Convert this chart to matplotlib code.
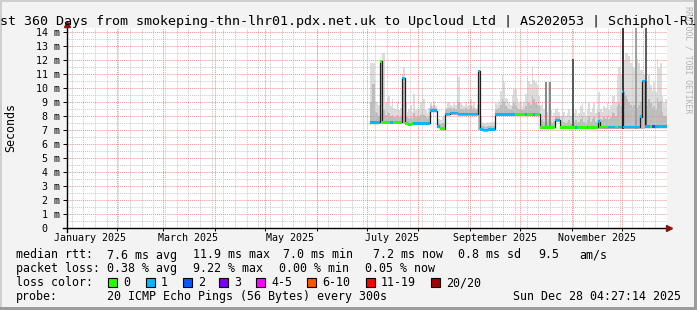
import numpy as np
import matplotlib
matplotlib.use("Agg")
import matplotlib.pyplot as plt
import matplotlib.dates as mdates
from matplotlib.patches import Rectangle
from datetime import datetime, timedelta

nan = np.nan
MONO = "DejaVu Sans Mono"

# ---- data (one value per day, starting 2025-07-01) ----
data_start = datetime(2025, 7, 1)

median_rtt = [
    nan, nan, 7.52, 7.52, 7.52, 7.52, 7.52, 7.55, 11.9, 7.55,
    7.55, 7.55, 7.55, 7.55, 7.55, 7.55, 7.55, 7.55, 7.55, 7.55,
    7.55, 10.7, 10.7, 7.47, 7.47, 7.40, 7.40, 7.47, 7.47, 7.47,
    7.47, 7.47, 7.47, 7.47, 7.47, 7.47, 7.47, 7.47, 8.38, 8.38,
    8.38, 8.38, 7.24, 7.24, 7.10, 7.10, 7.10, 8.15, 8.15, 8.15,
    8.22, 8.22, 8.22, 8.22, 8.22, 8.15, 8.15, 8.15, 8.15, 8.15,
    8.15, 8.15, 8.15, 8.15, 8.15, 8.15, 8.15, 11.2, 7.05, 7.05,
    7.00, 7.00, 7.00, 7.05, 7.05, 7.05, 7.05, 8.12, 8.12, 8.12,
    8.12, 8.12, 8.12, 8.12, 8.12, 8.12, 8.12, 8.12, 8.12, 8.12,
    8.12, 8.12, 8.12, 8.12, 8.12, 8.12, 8.12, 8.12, 8.12, 8.12,
    8.12, 8.12, 8.12, 8.12, 7.19, 7.19, 7.19, 7.19, 7.19, 7.19,
    7.19, 7.19, 7.19, 7.70, 7.70, 7.70, 7.19, 7.19, 7.19, 7.19,
    7.19, 7.19, 7.19, 7.19, 7.19, 7.19, 7.19, 7.19, 7.19, 7.19,
    7.19, 7.19, 7.19, 7.19, 7.19, 7.19, 7.19, 7.19, 7.19, 7.60,
    7.20, 7.20, 7.20, 7.20, 7.20, 7.20, 7.20, 7.20, 7.20, 7.20,
    7.20, 7.20, 7.20, 9.74, 7.20, 7.20, 7.20, 7.20, 7.20, 7.20,
    7.20, 7.20, 7.20, 7.20, 7.95, 10.5, 10.5, 7.24, 7.24, 7.24,
    7.24, 7.24, 7.24, 7.24, 7.24, 7.24, 7.24, 7.24, 7.24, 7.24,
]

# loss class per day: 0 -> "0", 1 -> "1", 2 -> "2", -1 -> no data
loss_class = [
    -1, -1, 1, 1, 1, 1, 1, 1, 0, 0,
    0, 0, 0, 0, 1, 1, 0, 0, 0, 0,
    0, 1, 1, 0, 0, 0, 0, 0, 1, 1,
    1, 1, 1, 1, 1, 1, 1, 1, 1, 1,
    1, 1, 1, 1, 0, 0, 0, 1, 1, 1,
    1, 1, 1, 1, 1, 1, 1, 1, 1, 1,
    1, 1, 1, 1, 1, 1, 1, 1, 1, 1,
    1, 1, 1, 1, 1, 1, 1, 1, 1, 1,
    1, 1, 1, 1, 1, 1, 1, 1, 1, 0,
    0, 0, 0, 0, 0, 1, 0, 0, 0, 0,
    1, 0, 0, 0, 0, 0, 0, 0, 0, 0,
    0, 0, 0, 1, 1, 1, 0, 0, 0, 0,
    0, 0, 0, 0, 0, 1, 0, 0, 0, 0,
    0, 0, 1, 0, 0, 0, 0, 0, 0, 1,
    0, 0, 0, 0, 0, 1, 1, 1, 1, 0,
    0, 1, 1, 1, 1, 1, 1, 1, 1, 1,
    1, 1, 1, 1, 1, 1, 1, 1, 1, 1,
    0, 2, 2, 1, 1, 1, 1, 1, 1, 1,
]

smoke_lo = [
    nan, nan, 7.40, 7.40, 7.40, 7.40, 7.40, 7.43, 7.45, 7.43,
    7.43, 7.43, 7.43, 7.43, 7.43, 7.43, 7.43, 7.43, 7.43, 7.43,
    7.43, 7.45, 7.45, 7.35, 7.35, 7.28, 7.28, 7.35, 7.35, 7.35,
    7.35, 7.35, 7.35, 7.35, 7.35, 7.35, 7.35, 7.35, 8.26, 8.26,
    8.26, 8.26, 7.12, 7.12, 6.98, 6.98, 6.98, 8.03, 8.03, 8.03,
    8.10, 8.10, 8.10, 8.10, 8.10, 8.03, 8.03, 8.03, 8.03, 8.03,
    8.03, 8.03, 8.03, 8.03, 8.03, 8.03, 8.03, 7.00, 6.93, 6.93,
    6.88, 6.88, 6.88, 6.93, 6.93, 6.93, 6.93, 8.00, 8.00, 8.00,
    8.00, 8.00, 8.00, 8.00, 8.00, 8.00, 8.00, 8.00, 8.00, 8.00,
    8.00, 8.00, 8.00, 8.00, 8.00, 8.00, 8.00, 8.00, 8.00, 8.00,
    8.00, 8.00, 8.00, 8.00, 7.07, 7.07, 7.07, 7.07, 7.07, 7.07,
    7.07, 7.07, 7.07, 7.58, 7.58, 7.58, 7.07, 7.07, 7.07, 7.07,
    7.07, 7.07, 7.07, 7.07, 7.07, 7.07, 7.07, 7.07, 7.07, 7.07,
    7.07, 7.07, 7.07, 7.07, 7.07, 7.07, 7.07, 7.07, 7.07, 7.10,
    7.08, 7.08, 7.08, 7.08, 7.08, 7.08, 7.08, 7.08, 7.08, 7.08,
    7.08, 7.08, 7.08, 7.10, 7.08, 7.08, 7.08, 7.08, 7.08, 7.08,
    7.08, 7.08, 7.08, 7.08, 7.10, 7.10, 7.10, 7.12, 7.12, 7.12,
    7.12, 7.12, 7.12, 7.12, 7.12, 7.12, 7.12, 7.12, 7.12, 7.12,
]

smoke_mid = [
    nan, nan, 9.0, 10.3, 10.3, 8.3, 8.2, 8.0, 11.9, 8.6,
    8.4, 8.1, 8.3, 8.2, 8.0, 8.1, 7.9, 7.9, 8.1, 7.9,
    8.0, 10.7, 10.7, 8.0, 7.9, 7.85, 7.9, 7.8, 8.2, 7.9,
    8.0, 7.9, 8.1, 8.4, 8.1, 7.9, 7.8, 7.9, 8.7, 8.6,
    8.8, 8.6, 7.6, 7.5, 7.4, 7.5, 7.5, 8.5, 8.6, 8.6,
    8.6, 8.5, 8.6, 8.5, 9.2, 9.0, 8.5, 8.5, 8.5, 8.6,
    8.5, 8.5, 8.7, 8.5, 8.6, 8.4, 8.5, 11.2, 7.4, 7.3,
    7.3, 7.25, 7.3, 7.3, 7.3, 7.3, 7.3, 8.5, 8.5, 8.6,
    8.8, 9.2, 9.0, 8.7, 8.6, 8.5, 8.5, 8.7, 8.9, 8.8,
    8.6, 8.5, 8.5, 8.4, 8.5, 8.7, 9.0, 8.9, 8.8, 9.5,
    9.2, 8.9, 8.8, 8.7, 7.7, 7.8, 7.6, 7.8, 7.6, 7.8,
    7.6, 7.5, 7.6, 8.0, 8.0, 8.0, 7.6, 7.9, 7.6, 7.5,
    7.6, 7.7, 7.5, 8.0, 7.6, 7.7, 7.5, 7.6, 7.8, 7.9,
    7.6, 7.5, 7.7, 7.9, 7.6, 7.8, 7.9, 7.6, 7.7, 8.3,
    7.8, 7.7, 7.9, 7.8, 8.0, 7.8, 7.9, 8.3, 8.2, 8.0,
    8.7, 8.9, 8.7, 9.8, 9.8, 9.5, 9.2, 9.0, 8.8, 8.6,
    8.8, 9.0, 8.6, 8.8, 9.0, 10.5, 10.5, 9.0, 8.8, 9.2,
    8.9, 8.6, 8.7, 8.5, 9.3, 9.0, 9.1, 8.3, 8.0, 8.0,
]

smoke_hi = [
    nan, nan, 11.8, 11.8, 11.8, 9.0, 9.0, 8.8, 12.0, 12.5,
    12.5, 9.0, 9.3, 9.4, 8.7, 9.2, 8.6, 8.5, 9.0, 8.4,
    8.6, 11.0, 11.5, 9.0, 8.3, 8.5, 8.8, 8.3, 9.6, 8.4,
    8.6, 8.5, 9.0, 10.0, 9.2, 8.4, 8.2, 8.6, 8.9, 8.7,
    9.1, 8.7, 8.0, 7.8, 7.7, 7.9, 8.0, 8.6, 8.9, 9.0,
    8.8, 8.7, 8.9, 8.8, 11.0, 10.8, 8.9, 8.8, 8.7, 9.0,
    8.7, 8.8, 9.2, 8.8, 9.0, 8.6, 8.8, 11.3, 8.0, 7.6,
    7.5, 7.5, 7.6, 7.5, 7.6, 7.5, 7.6, 8.9, 8.8, 9.0,
    9.8, 10.9, 10.4, 9.3, 9.2, 9.0, 8.8, 9.5, 9.9, 9.9,
    9.3, 8.9, 9.0, 8.7, 9.0, 9.6, 10.8, 10.5, 10.3, 11.6,
    10.6, 10.4, 10.2, 9.4, 8.8, 9.0, 8.5, 10.45, 8.3, 10.4,
    8.4, 8.0, 8.2, 8.5, 8.6, 8.3, 8.0, 10.0, 8.3, 8.0,
    8.2, 8.5, 8.0, 12.0, 8.2, 8.4, 8.0, 8.2, 8.7, 8.9,
    8.3, 8.0, 8.5, 8.9, 8.3, 8.6, 8.9, 8.2, 8.5, 9.7,
    8.5, 8.3, 8.7, 8.6, 8.9, 8.4, 8.8, 9.5, 9.4, 9.0,
    10.9, 11.5, 11.0, 14.5, 12.0, 12.5, 12.5, 12.3, 11.8, 11.6,
    11.4, 14.3, 12.1, 11.8, 11.3, 11.3, 11.0, 14.5, 10.5, 10.9,
    10.2, 9.8, 10.4, 9.7, 12.1, 11.4, 11.8, 9.4, 8.9, 9.2,
]

# darker single-day smoke columns
dark_days = [107, 109, 123, 153, 161, 167]
dark_tops = [10.45, 10.4, 12.1, 14.5, 14.3, 14.5]
dark_shades = ["#8a8a8a", "#8a8a8a", "#5a5a5a", "#3a3a3a", "#a0a0a0", "#606060"]

loss_labels = ["0", "1", "2", "3", "4-5", "6-10", "11-19", "20/20"]
loss_colors = ["#26ff00", "#00b8ff", "#0059ff", "#7e00ff", "#ff00ff",
               "#ff5500", "#ff0000", "#a10000"]

y_ticks = list(range(15))
y_labels = ["0  "] + ["%d m" % v for v in range(1, 15)]
x_label_dates = [datetime(2025, m, 16) for m in (1, 3, 5, 7, 9, 11)]
x_labels = ["January 2025", "March 2025", "May 2025", "July 2025",
            "September 2025", "November 2025"]

t_start = datetime(2025, 1, 2, 4, 27, 14)
t_end = datetime(2025, 12, 28, 4, 27, 14)

# ---- figure ----
W, H = 697, 310
fig = plt.figure(figsize=(W / 100, H / 100), dpi=100, facecolor="#f3f3f3")


def fx(x):
    return x / W


def fy(y):
    return 1 - y / H


ax = fig.add_axes([fx(67), fy(228), 600 / W, 200 / H])
ax.set_facecolor("white")
for s in ax.spines.values():
    s.set_visible(False)
ax.set_xlim(t_start, t_end)
ax.set_ylim(0, 200 / 14)

n = len(median_rtt)
x0 = mdates.date2num(data_start)
edges = x0 + np.arange(n + 1)
lo = np.array(smoke_lo + [smoke_lo[-1]])
mid = np.array(smoke_mid + [smoke_mid[-1]])
hi = np.array(smoke_hi + [smoke_hi[-1]])
med = np.array(median_rtt + [median_rtt[-1]])

# smoke
ax.fill_between(edges, lo, hi, step="post", color="#dcdcdc", lw=0, zorder=1)
ax.fill_between(edges, lo, mid, step="post", color="#bdbdbd", lw=0, zorder=1.1)

# grid
week = datetime(2025, 1, 5)
while week < t_end:
    ax.axvline(week, color="#c8c8c8", lw=0.7, ls=(0, (1, 1)), zorder=2)
    week += timedelta(days=7)
for m in range(2, 13):
    ax.axvline(datetime(2025, m, 1), color="#f09090", lw=0.7, ls=(0, (1, 1)), zorder=2.1)
for v in np.arange(0.5, 14.5, 1.0):
    ax.axhline(v, color="#c8c8c8", lw=0.7, ls=(0, (1, 1)), zorder=2)
for v in range(1, 15):
    ax.axhline(v, color="#f09090", lw=0.7, ls=(0, (1, 1)), zorder=2.1)

dk_lo = [smoke_lo[d] for d in dark_days]
ax.bar(x0 + np.array(dark_days) + 0.2, np.array(dark_tops) - np.array(dk_lo),
       bottom=dk_lo, width=1.2, align="edge", color=dark_shades, lw=0, zorder=2.5)

# median line and loss-coloured markers
ax.step(edges, med, where="post", color="#202020", lw=0.9, zorder=3)
ok = [i for i in range(n) if loss_class[i] >= 0]
ax.bar(x0 + np.array(ok), 0.18, bottom=np.array([median_rtt[i] for i in ok]) - 0.09,
       width=1.0, align="edge", color=[loss_colors[loss_class[i]] for i in ok],
       lw=0, zorder=4)

# axes lines + arrows
ax.axhline(0, xmin=-4 / 600, xmax=1.0, color="black", lw=1.0, clip_on=False, zorder=5)
ax.axvline(t_start, ymin=-4 / 200, ymax=1.0 + 3 / 200, color="black", lw=1.0,
           clip_on=False, zorder=5)
ax.plot(1.004, 0, marker=">", ms=4.5, color="#8b1010", transform=ax.transAxes,
        clip_on=False, zorder=6)
ax.plot(0, 1.02, marker="^", ms=4.5, color="#8b1010", transform=ax.transAxes,
        clip_on=False, zorder=6)

# ticks
ax.set_yticks(y_ticks, y_labels)
ax.tick_params(axis="y", length=2.9, width=0.7, pad=2.2, labelsize=7.2,
               direction="out")
ax.set_xticks(x_label_dates, x_labels)
ax.tick_params(axis="x", which="major", length=0, pad=3.5, labelsize=7.2)
ax.set_xticks([datetime(2025, m, 1) for m in range(2, 13)], minor=True)
ax.tick_params(axis="x", which="minor", length=2.2, width=0.7, direction="out")
for lab in ax.get_xticklabels() + ax.get_yticklabels():
    lab.set_family(MONO)

# texts
fig.text(0.5, fy(25), "Last 360 Days from smokeping-thn-lhr01.pdx.net.uk to Upcloud Ltd"
         " | AS202053 | Schiphol-Rijk", ha="center", va="baseline", size=9.6,
         family=MONO)
fig.text(fx(11), fy(128), "Seconds", rotation=90, ha="center", va="center",
         size=8.4, family=MONO)
fig.text(fx(688), fy(60), "RRDTOOL / TOBI OETIKER", rotation=-90, ha="center",
         va="center", size=5.9, color="#b4b4b4", family=MONO)

rows = [
    (258.5, [(16, "median rtt:"), (107, "7.6 ms avg"), (193, "11.9 ms max"),
             (283, "7.0 ms min"), (373, "7.2 ms now"), (458, "0.8 ms sd"),
             (538, "9.5"), (579, "am/s")]),
    (272, [(16, "packet loss:"), (107, "0.38 % avg"), (193, "9.22 % max"),
           (279, "0.00 % min"), (365, "0.05 % now")]),
    (286, [(16, "loss color:")]),
    (300, [(16, "probe:"), (107, "20 ICMP Echo Pings (56 Bytes) every 300s")]),
]
for yb, items in rows:
    for xp, txt in items:
        fig.text(fx(xp), fy(yb), txt, ha="left", va="baseline", size=8.4, family=MONO)
fig.text(fx(681), fy(300), "Sun Dec 28 04:27:14 2025", ha="right", va="baseline",
         size=8.4, family=MONO)

box_x = [108, 146, 183, 219, 256, 307, 366, 431]
for bx, col, lab in zip(box_x, loss_colors, loss_labels):
    fig.add_artist(Rectangle((fx(bx), fy(287)), 9 / W, 9 / H, facecolor=col,
                             edgecolor="black", lw=0.8, transform=fig.transFigure))
    fig.text(fx(bx + 15), fy(286), lab, ha="left", va="baseline", size=8.4,
             family=MONO)

# 3d frame
fig.add_artist(Rectangle((0, fy(2)), 1, 2 / H, color="#cfcfcf", lw=0,
                         transform=fig.transFigure))
fig.add_artist(Rectangle((0, 0), 2 / W, 1, color="#cfcfcf", lw=0,
                         transform=fig.transFigure))
fig.add_artist(Rectangle((0, 0), 1, 3 / H, color="#9c9c9c", lw=0,
                         transform=fig.transFigure))
fig.add_artist(Rectangle((fx(694), 0), 3 / W, 1, color="#9c9c9c", lw=0,
                         transform=fig.transFigure))

fig.savefig("out.png", dpi=100, facecolor=fig.get_facecolor())
